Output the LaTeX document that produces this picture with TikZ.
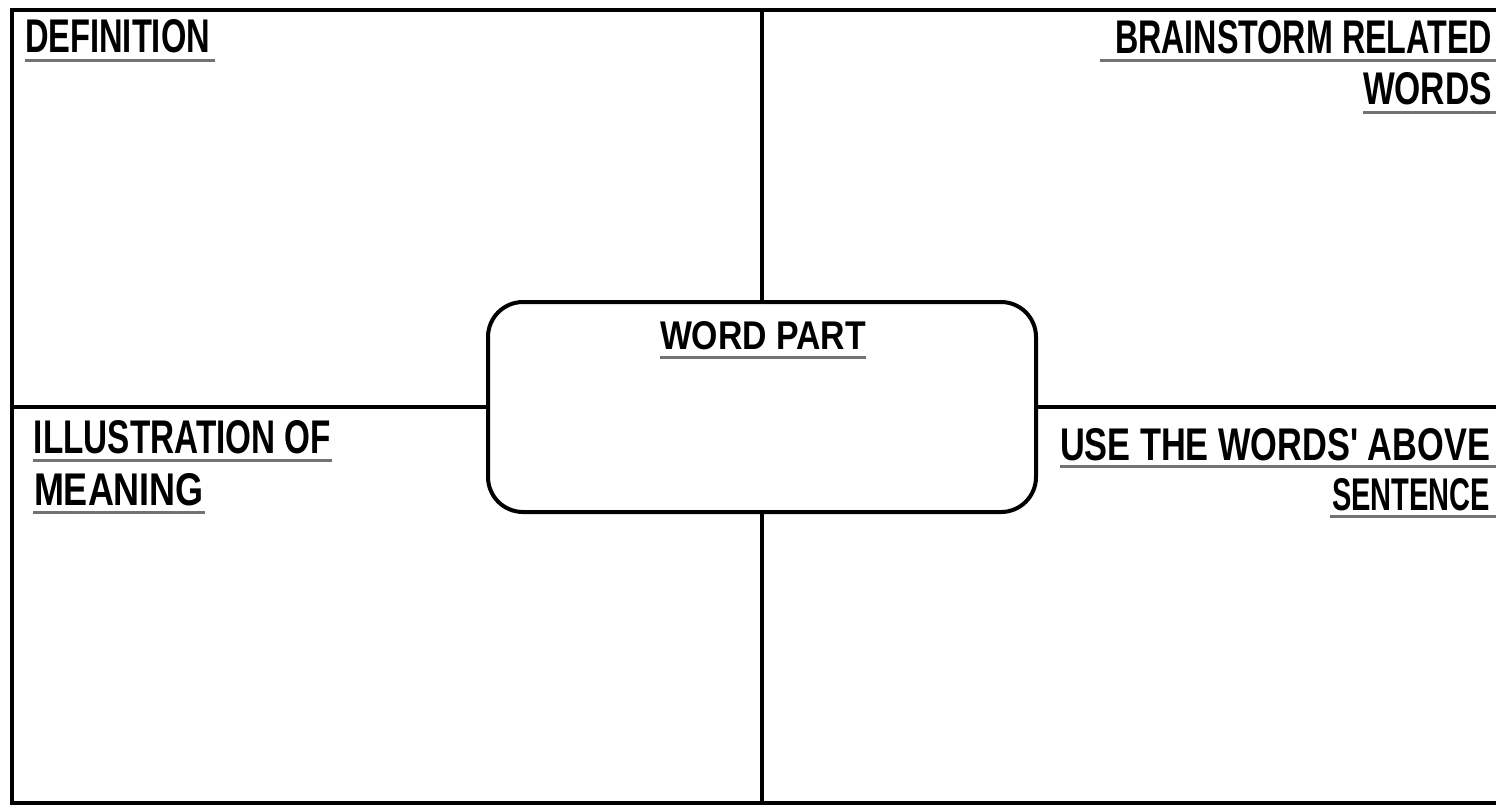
\documentclass[tikz,border=0pt]{standalone}
\usepackage{fontspec}
\setmainfont{Liberation Sans}
\usepackage{graphicx}
\usetikzlibrary{calc}
\newcommand{\lbltxt}[3]{\resizebox{#1pt}{#2pt}{\bfseries #3}}
\tikzset{
  frameline/.style={line width=4pt, draw=black},
  wordbox/.style={draw=black, line width=4pt, rounded corners=35pt, fill=white,
    minimum width=548pt, minimum height=210pt, inner sep=0pt},
  lbl/.style={inner sep=0pt, outer sep=0pt, anchor=south west},
  ul/.style={line width=3pt, draw=black!55}
}
\begin{document}
\begin{tikzpicture}[x=1pt,y=-1pt]
\useasboundingbox (0,0) rectangle (1496,804);
\fill[white] (0,0) rectangle (1496,804);
\clip (0,0) rectangle (1496,804);
% frame
\coordinate (tl) at (12,10);
\coordinate (br) at (1512,803);
\draw[frameline] (tl) rectangle (br);
\coordinate (vtop) at (762,10);
\coordinate (vbot) at (762,803);
\coordinate (hleft) at (12,407);
\coordinate (hright) at (1512,407);
\node[wordbox] (box) at (762,407) {};
\draw[frameline] (vtop) -- (box.north);
\draw[frameline] (box.south) -- (vbot);
\draw[frameline] (hleft) -- (box.west);
\draw[frameline] (box.east) -- (hright);
% labels
\node[lbl] (def) at (25,53) {\lbltxt{185}{33}{DEFINITION}};
\node[lbl] (brain) at (1115,54) {\lbltxt{377}{33}{BRAINSTORM RELATED}};
\node[lbl] (words) at (1363,105) {\lbltxt{129}{32}{WORDS}};
\node[lbl] (wp) at (660,350) {\lbltxt{206}{28}{WORD PART}};
\node[lbl] (ill) at (34,454) {\lbltxt{297}{33}{ILLUSTRATION OF}};
\node[lbl] (mean) at (34,506) {\lbltxt{170}{32}{MEANING}};
\node[lbl] (use) at (1060,461) {\lbltxt{430}{32}{USE THE WORDS\textquotesingle{} ABOVE}};
\node[lbl] (sent) at (1332,511) {\lbltxt{158}{32}{SENTENCE}};
% underlines
\draw[ul] ($(def.south west)+(0,7)$) -- ($(def.south east)+(5,7)$);
\draw[ul] ($(brain.south west)+(-15,6)$) -- ($(brain.south east)+(10,6)$);
\draw[ul] ($(words.south west)+(0,7)$) -- ($(words.south east)+(10,7)$);
\draw[ul] ($(wp.south west)+(0,7)$) -- ($(wp.south east)+(0,7)$);
\draw[ul] ($(ill.south west)+(-1,6)$) -- ($(ill.south east)+(1,6)$);
\draw[ul] ($(mean.south west)+(-1,6)$) -- ($(mean.south east)+(1,6)$);
\draw[ul] ($(use.south west)+(0,5)$) -- ($(use.south east)+(10,5)$);
\draw[ul] ($(sent.south west)+(-2,5)$) -- ($(sent.south east)+(10,5)$);
\end{tikzpicture}
\end{document}
